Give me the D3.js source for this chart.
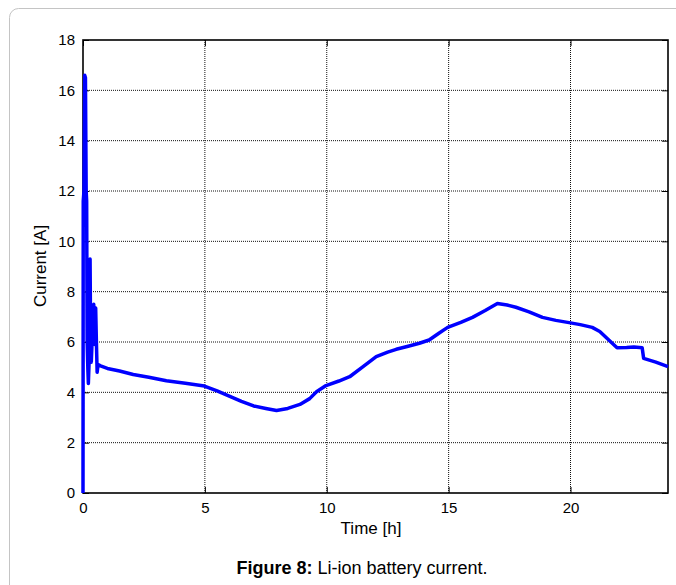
<!DOCTYPE html>
<html>
<head>
<meta charset="utf-8">
<script src="https://cdn.jsdelivr.net/npm/d3@7"></script>
<style>
  body { margin: 0; background: #fff; }
  text { font-family: "Liberation Sans", Arial, sans-serif; }
</style>
</head>
<body>
<svg width="676" height="585"></svg>
<script>
// time in hours, current in amps
var time = [0, 0.01, 0.04, 0.07, 0.1, 0.13, 0.15, 0.17, 0.2, 0.22, 0.25, 0.29, 0.31, 0.34, 0.38, 0.44, 0.48, 0.52, 0.55, 0.58, 0.62, 0.72,
  1.0, 1.5, 2.06, 2.7, 3.42, 4.2, 4.98, 5.5, 6.0, 6.5, 7.0, 7.5, 7.94, 8.4, 8.9, 9.3, 9.58, 9.97, 10.5, 10.94, 11.49, 12.03,
  12.5, 12.85, 13.3, 13.8, 14.2, 14.6, 14.96, 15.5, 15.98, 16.5, 17.0, 17.4, 17.76, 18.3, 18.85, 19.4, 19.94, 20.4, 20.89,
  21.2, 21.55, 21.91, 22.3, 22.6, 22.94, 23.0, 23.5, 24.0];
var current = [0, 11.6, 12.0, 16.6, 16.5, 12.0, 11.6, 6.0, 4.9, 4.35, 5.2, 9.3, 6.5, 5.2, 6.2, 7.5, 5.9, 7.35, 6.0, 4.8, 5.1, 5.05,
  4.95, 4.85, 4.71, 4.6, 4.46, 4.36, 4.25, 4.06, 3.85, 3.64, 3.46, 3.36, 3.28, 3.36, 3.52, 3.75, 4.02, 4.27, 4.45, 4.62, 5.02, 5.42,
  5.6, 5.71, 5.82, 5.95, 6.08, 6.35, 6.58, 6.78, 6.98, 7.25, 7.53, 7.47, 7.38, 7.2, 6.98, 6.86, 6.77, 6.69, 6.58,
  6.42, 6.1, 5.77, 5.78, 5.8, 5.77, 5.35, 5.2, 5.02];
var xTicks = [0, 5, 10, 15, 20];
var yTicks = [0, 2, 4, 6, 8, 10, 12, 14, 16, 18];

var data = time.map(function(t, i){ return [t, current[i]]; });

var svg = d3.select("svg");

// page frame
svg.append("rect")
  .attr("x", 9.5).attr("y", 8.5)
  .attr("width", 700).attr("height", 600)
  .attr("rx", 9)
  .attr("fill", "none")
  .attr("stroke", "#c4c4c4")
  .attr("stroke-width", 1);

var pLeft = 83, pRight = 668, pTop = 40, pBottom = 493;
var x = d3.scaleLinear().domain([0, 24]).range([pLeft, pRight]);
var y = d3.scaleLinear().domain([0, 18]).range([pBottom, pTop]);

// grid
var grid = svg.append("g").attr("class", "grid");
grid.selectAll("line.v").data(xTicks.slice(1)).enter().append("line")
  .attr("x1", function(d){ return x(d); }).attr("x2", function(d){ return x(d); })
  .attr("y1", pTop).attr("y2", pBottom);
grid.selectAll("line.h").data(yTicks.slice(1, -1)).enter().append("line")
  .attr("y1", function(d){ return y(d); }).attr("y2", function(d){ return y(d); })
  .attr("x1", pLeft).attr("x2", pRight);
grid.selectAll("line")
  .attr("stroke", "#111")
  .attr("stroke-width", 1)
  .attr("stroke-dasharray", "1,1");

// axes (ticks pointing inward like matlab)
var xAxis = d3.axisBottom(x).tickValues(xTicks).tickSize(-6).tickPadding(9).tickFormat(d3.format("d"));
var yAxis = d3.axisLeft(y).tickValues(yTicks).tickSize(-6).tickPadding(8);
var xTop = d3.axisTop(x).tickValues(xTicks).tickSize(-6).tickFormat("");
var yRight = d3.axisRight(y).tickValues(yTicks).tickSize(-6).tickFormat("");

svg.append("g").attr("transform", "translate(0," + pBottom + ")").call(xAxis);
svg.append("g").attr("transform", "translate(" + pLeft + ",0)").call(yAxis);
svg.append("g").attr("transform", "translate(0," + pTop + ")").call(xTop);
svg.append("g").attr("transform", "translate(" + pRight + ",0)").call(yRight);

svg.selectAll(".domain").remove();
svg.selectAll(".tick line").attr("stroke", "#000").attr("stroke-width", 1);
svg.selectAll(".tick text").attr("font-size", 15).attr("fill", "#000")
  .style("font-family", "Liberation Sans, Arial, sans-serif");

// box
svg.append("rect")
  .attr("x", pLeft).attr("y", pTop)
  .attr("width", pRight - pLeft).attr("height", pBottom - pTop)
  .attr("fill", "none").attr("stroke", "#000").attr("stroke-width", 1.6);

// current line
var line = d3.line().x(function(d){ return x(d[0]); }).y(function(d){ return y(d[1]); });
svg.append("path")
  .datum(data)
  .attr("d", line)
  .attr("fill", "none")
  .attr("stroke", "#0000ff")
  .attr("stroke-width", 3.5)
  .attr("stroke-linejoin", "round");

// labels
svg.append("text")
  .attr("x", 371)
  .attr("y", 534)
  .attr("text-anchor", "middle")
  .attr("font-size", 17)
  .text("Time [h]");

svg.append("text")
  .attr("transform", "rotate(-90)")
  .attr("x", -266)
  .attr("y", 46)
  .attr("text-anchor", "middle")
  .attr("font-size", 17)
  .text("Current [A]");

var cap = svg.append("text")
  .attr("x", 362)
  .attr("y", 574)
  .attr("text-anchor", "middle")
  .attr("font-size", 18);
cap.append("tspan").attr("font-weight", "bold").text("Figure 8:");
cap.append("tspan").text(" Li-ion battery current.");
</script>
</body>
</html>
